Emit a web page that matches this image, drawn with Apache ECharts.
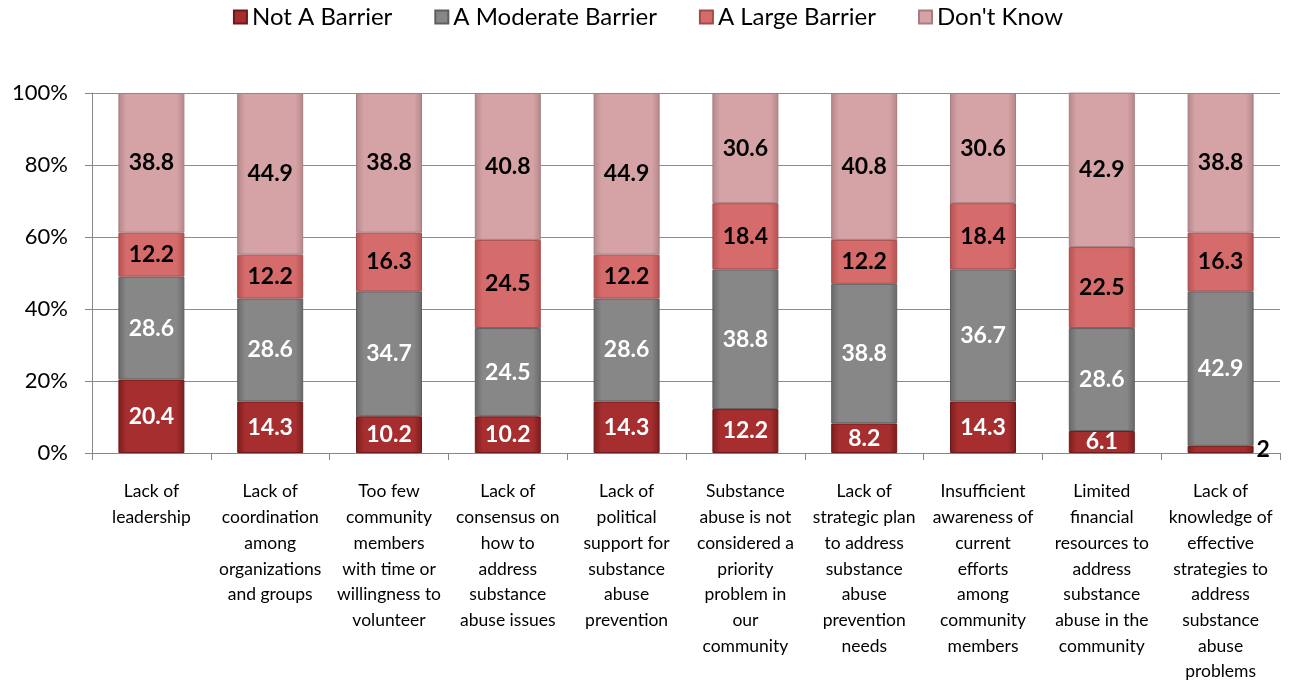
<!DOCTYPE html>
<html>
<head>
<meta charset="utf-8">
<script src="https://cdn.jsdelivr.net/npm/echarts@6/dist/echarts.min.js"></script>
<style>
  html, body { margin: 0; padding: 0; background: #fff; }
  #barrier-chart { width: 1296px; height: 685px; }
</style>
</head>
<body>
<div id="barrier-chart"></div>
<script>
// categories (line breaks as in the original axis)
const categories = [
  'Lack of\nleadership',
  'Lack of\ncoordination\namong\norganizations\nand groups',
  'Too few\ncommunity\nmembers\nwith time or\nwillingness to\nvolunteer',
  'Lack of\nconsensus on\nhow to\naddress\nsubstance\nabuse issues',
  'Lack of\npolitical\nsupport for\nsubstance\nabuse\nprevention',
  'Substance\nabuse is not\nconsidered a\npriority\nproblem in\nour\ncommunity',
  'Lack of\nstrategic plan\nto address\nsubstance\nabuse\nprevention\nneeds',
  'Insufficient\nawareness of\ncurrent\nefforts\namong\ncommunity\nmembers',
  'Limited\nfinancial\nresources to\naddress\nsubstance\nabuse in the\ncommunity',
  'Lack of\nknowledge of\neffective\nstrategies to\naddress\nsubstance\nabuse\nproblems'
];
const seriesNames = ['Not A Barrier', 'A Moderate Barrier', 'A Large Barrier', "Don't Know"];
const notBarrier = [20.4, 14.3, 10.2, 10.2, 14.3, 12.2, 8.2, 14.3, 6.1, 2];
const moderateBarrier = [28.6, 28.6, 34.7, 24.5, 28.6, 38.8, 38.8, 36.7, 28.6, 42.9];
const largeBarrier = [12.2, 12.2, 16.3, 24.5, 12.2, 18.4, 12.2, 18.4, 22.5, 16.3];
const dontKnow = [38.8, 44.9, 38.8, 40.8, 44.9, 30.6, 40.8, 30.6, 42.9, 38.8];
const yTicks = [0, 20, 40, 60, 80, 100];

const font = 'Lato, "Open Sans", sans-serif';

function barGrad(edge, mid) {
  return new echarts.graphic.LinearGradient(0, 0, 1, 0, [
    { offset: 0, color: edge },
    { offset: 0.12, color: mid },
    { offset: 0.88, color: mid },
    { offset: 1, color: edge }
  ]);
}

const styles = [
  { edge: '#7a1d1d', mid: '#a62e2e', border: '#6e1a1a', label: '#fff' },
  { edge: '#686868', mid: '#878787', border: '#5e5e5e', label: '#fff' },
  { edge: '#b45252', mid: '#d66b6b', border: '#a44a4a', label: '#000' },
  { edge: '#b5878a', mid: '#d5a3a6', border: '#a67d80', label: '#000' }
];
const dataSets = [notBarrier, moderateBarrier, largeBarrier, dontKnow];

const series = dataSets.map((arr, i) => ({
  name: seriesNames[i],
  type: 'bar',
  stack: 'total',
  barWidth: 66,
  itemStyle: {
    color: barGrad(styles[i].edge, styles[i].mid),
    borderColor: styles[i].border,
    borderWidth: 1
  },
  label: {
    show: true,
    position: 'inside',
    color: styles[i].label,
    fontFamily: font,
    fontWeight: 'bold',
    fontSize: 23
  },
  data: arr.map((v, j) => {
    // the tiny last segment has its label outside to the right
    if (i === 0 && v < 3) {
      return { value: v, label: { position: 'right', color: '#000', distance: 3 } };
    }
    return v;
  })
}));

const chart = echarts.init(document.getElementById('barrier-chart'));
chart.setOption({
  animation: false,
  color: styles.map(s => s.mid),
  legend: {
    top: 0,
    left: 'center',
    itemWidth: 13,
    itemHeight: 13,
    itemGap: 42,
    icon: 'rect',
    textStyle: { fontFamily: font, fontSize: 24, color: '#000' },
    data: seriesNames
  },
  grid: { left: 92, right: 16, top: 93, bottom: 232 },
  xAxis: {
    type: 'category',
    data: categories,
    axisLine: { show: true, lineStyle: { color: '#868686' } },
    axisTick: { show: true, length: 7, alignWithLabel: false, lineStyle: { color: '#868686' } },
    axisLabel: {
      interval: 0,
      margin: 26,
      fontFamily: font,
      fontSize: 17.5,
      lineHeight: 25.7,
      color: '#000',
      align: 'center'
    }
  },
  yAxis: {
    type: 'value',
    min: 0,
    max: 100,
    interval: 20,
    axisLine: { show: true, lineStyle: { color: '#868686' } },
    axisTick: { show: true, length: 7, lineStyle: { color: '#868686' } },
    splitLine: { show: true, lineStyle: { color: '#8c8c8c' } },
    axisLabel: {
      margin: 24,
      fontFamily: font,
      fontSize: 22,
      color: '#000',
      formatter: v => (yTicks.indexOf(v) >= 0 ? v + '%' : '')
    }
  },
  series: series
});
</script>
</body>
</html>
